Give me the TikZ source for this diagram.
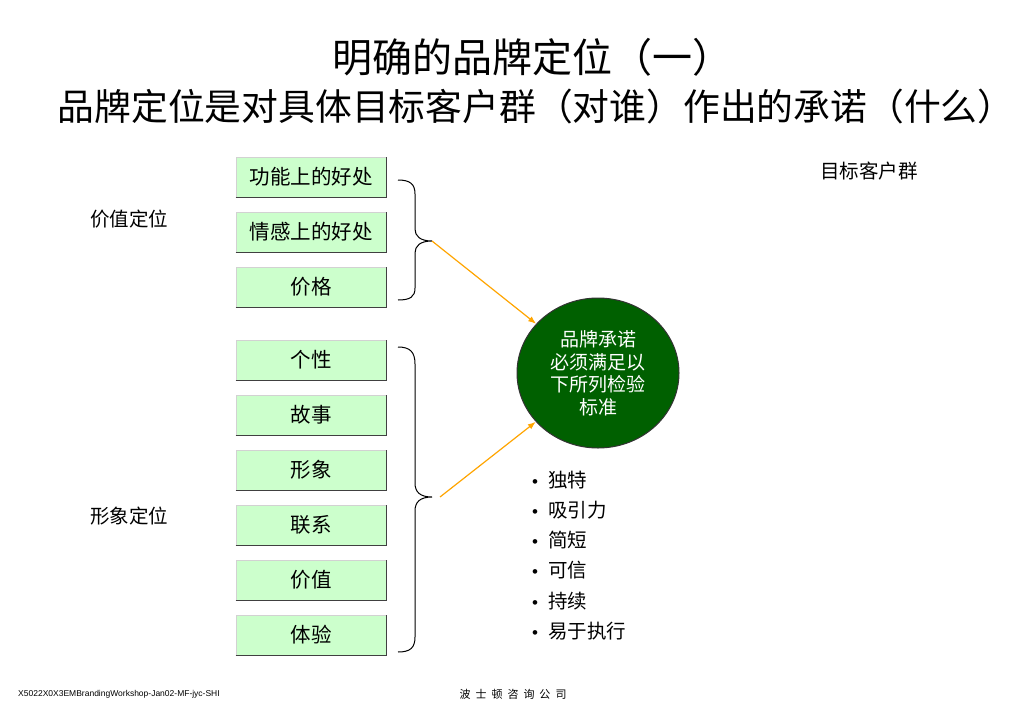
\documentclass[tikz,border=0pt]{standalone}
\usepackage{fontspec}
\setmainfont{Noto Sans CJK SC}
\newfontfamily\footfont{Liberation Sans}
\usepackage{tikz}
\usetikzlibrary{arrows.meta, shapes.geometric}
\definecolor{boxgreen}{RGB}{204,255,204}
\definecolor{promisegreen}{RGB}{0,96,0}
\definecolor{arroworange}{RGB}{255,165,0}
\tikzset{title/.style = {font = \fontsize{40}{42}\selectfont, inner sep = 0}}
\tikzset{label/.style = {font = \fontsize{19.5}{22}\selectfont, inner sep = 0}}
\tikzset{item/.style = {shape = rectangle, fill = boxgreen, draw = gray!35, line width = 0.8pt,
    minimum width = 150pt, minimum height = 40pt, inner sep = 0,
    font = \fontsize{20.5}{22}\selectfont}}
\tikzset{itemedge/.style = {draw = black!75, line width = 1.6pt}}
\tikzset{brace/.style = {draw, line width = 1pt}}
\tikzset{edge/.style = {-{Latex[length = 8pt, width = 6pt]}, draw = arroworange, line width = 1.2pt}}

\begin{document}
\begin{tikzpicture}[x = 1pt, y = -1pt]
				\useasboundingbox[fill = white] (0, 0) rectangle (1024, 709);

				\node[title] (t1) at (532, 57) {明确的品牌定位（一）};
				\node[title, font = \fontsize{36.8}{40}\selectfont] (t2) at (536, 107) {品牌定位是对具体目标客户群（对谁）作出的承诺（什么）};

				\node[label] (value) at (129, 219) {价值定位};
				\node[label] (image) at (129, 516) {形象定位};
				\node[label, anchor = west] (target) at (820, 171) {目标客户群};

				\node[item] (f) at (311, 177) {功能上的好处};
				\node[item] (e) at (311, 232) {情感上的好处};
				\node[item] (p) at (311, 287) {价格};
				\node[item] (c1) at (311, 360) {个性};
				\node[item] (c2) at (311, 415) {故事};
				\node[item] (c3) at (311, 470) {形象};
				\node[item] (c4) at (311, 525) {联系};
				\node[item] (c5) at (311, 580) {价值};
				\node[item] (c6) at (311, 635) {体验};
				\foreach \b in {f, e, p, c1, c2, c3, c4, c5, c6}
					\draw[itemedge] (\b.south west) -- (\b.south east) -- (\b.north east);

				% braces
				\coordinate (tipa) at (432, 241);
				\coordinate (tipb) at (432, 497);
				\draw[brace] (398, 180) .. controls (410, 180) and (415, 184) .. (415, 194)
					-- (415, 229) .. controls (415, 236) and (420, 241) .. (tipa)
					.. controls (420, 241) and (415, 246) .. (415, 253)
					-- (415, 288) .. controls (415, 297) and (410, 300) .. (398, 300);
				\draw[brace] (398, 347) .. controls (410, 347) and (415, 352) .. (415, 364)
					-- (415, 483) .. controls (415, 492) and (420, 497) .. (tipb)
					.. controls (420, 497) and (415, 502) .. (415, 511)
					-- (415, 637) .. controls (415, 648) and (410, 652) .. (398, 652);

				\node[shape = ellipse, fill = promisegreen, draw = black!80, line width = 1pt,
					minimum width = 162pt, minimum height = 150pt, inner sep = 0,
					text = white, align = center, font = \fontsize{19}{22.5}\selectfont] (promise) at (598, 373)
					{品牌承诺\\必须满足以\\下所列检验\\标准};

				\draw[edge] (tipa) -- (promise);
				\draw[edge] ([xshift = 8pt] tipb) -- (promise);

				\foreach \t [count = \i] in {独特, 吸引力, 简短, 可信, 持续, 易于执行}
					\node[label, anchor = west] (r\i) at (532, 480 + 30.2 * \i - 30.2) {{\footfont\fontsize{17}{20}\selectfont\textbullet}\hspace{10pt}\t};

				\node[inner sep = 0, font = \fontsize{11}{12}\selectfont] (firm) at (513, 694) {波\hspace{5pt}士\hspace{5pt}顿\hspace{5pt}咨\hspace{5pt}询\hspace{5pt}公\hspace{5pt}司};
				\node[inner sep = 0, anchor = west, font = \footfont\fontsize{8.5}{9}\selectfont] (ref) at (18, 694) {X5022X0X3EMBrandingWorkshop-Jan02-MF-jyc-SHI};
			\end{tikzpicture}
\end{document}
